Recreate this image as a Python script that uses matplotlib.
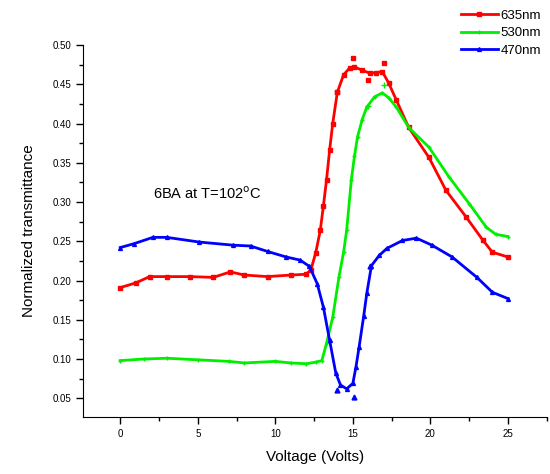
import numpy as np
import matplotlib.pyplot as plt
from matplotlib.ticker import MultipleLocator

plt.rcParams['font.family'] = ['Liberation Sans', 'DejaVu Sans']

# 635 nm (red)
v_red = [0, 1.0, 1.9, 3.0, 4.5, 6.0, 7.1, 8.0, 9.5, 11.0, 12.0, 12.3, 12.6, 12.9, 13.1, 13.3, 13.5,
         13.7, 14.0, 14.4, 14.8, 15.1, 15.6, 16.1, 16.5, 16.9, 17.3, 17.8, 18.6, 19.9, 21.0, 22.3,
         23.4, 24.0, 25.0]
t_red = [0.191, 0.197, 0.205, 0.205, 0.205, 0.204, 0.211, 0.207, 0.205, 0.207, 0.208, 0.214, 0.235,
         0.264, 0.295, 0.328, 0.366, 0.400, 0.440, 0.462, 0.471, 0.472, 0.468, 0.464, 0.465, 0.466,
         0.452, 0.430, 0.395, 0.357, 0.315, 0.281, 0.251, 0.236, 0.230]
v_red_pts = [14.0, 15.0, 16.0, 17.0]
t_red_pts = [0.440, 0.483, 0.455, 0.477]

# 530 nm (green)
v_green = [0, 1.5, 3.0, 5.0, 7.0, 8.0, 10.0, 11.0, 12.0, 12.6, 13.0, 13.3, 13.7, 14.1, 14.4, 14.6,
           14.9, 15.1, 15.3, 15.6, 15.9, 16.4, 16.9, 17.3, 17.8, 18.6, 19.9, 21.2, 22.5, 23.6,
           24.2, 25.0]
t_green = [0.098, 0.100, 0.101, 0.099, 0.097, 0.095, 0.097, 0.095, 0.094, 0.096, 0.098, 0.120, 0.153,
           0.204, 0.236, 0.264, 0.328, 0.358, 0.383, 0.405, 0.421, 0.434, 0.439, 0.433, 0.421, 0.395,
           0.370, 0.332, 0.298, 0.268, 0.259, 0.256]
v_green_pts = [16.0, 17.0]
t_green_pts = [0.422, 0.449]

# 470 nm (blue)
v_blue = [0, 0.9, 2.1, 3.0, 5.1, 7.3, 8.4, 9.5, 10.7, 11.6, 12.2, 12.7, 13.1, 13.5, 13.9, 14.2, 14.6,
          15.0, 15.2, 15.4, 15.7, 15.9, 16.2, 16.7, 17.2, 18.2, 19.1, 20.1, 21.4, 23.0, 24.0, 25.0]
t_blue = [0.242, 0.247, 0.255, 0.255, 0.249, 0.245, 0.244, 0.237, 0.230, 0.226, 0.218, 0.196, 0.166,
          0.124, 0.082, 0.067, 0.062, 0.069, 0.090, 0.115, 0.155, 0.184, 0.219, 0.232, 0.241, 0.251,
          0.254, 0.245, 0.230, 0.204, 0.185, 0.177]
v_blue_pts = [14.0, 15.05, 16.1]
t_blue_pts = [0.060, 0.052, 0.219]

fig = plt.figure(figsize=(5.5, 4.74), dpi=100)
ax = fig.add_axes([0.151, 0.120, 0.843, 0.785])

ax.plot(v_red, t_red, color='#ff0000', lw=2, marker='s', ms=2.2, label='635nm')
ax.plot(v_green, t_green, color='#00ee00', lw=2, marker='+', ms=3, label='530nm')
ax.plot(v_blue, t_blue, color='#0000ff', lw=2, marker='^', ms=2.8, label='470nm')
ax.plot(v_red_pts, t_red_pts, ls='none', color='#ff0000', marker='s', ms=3)
ax.plot(v_green_pts, t_green_pts, ls='none', color='#00ee00', marker='+', ms=4)
ax.plot(v_blue_pts, t_blue_pts, ls='none', color='#0000ff', marker='^', ms=3.5)

ax.set_xlim(-2.4, 27.5)
ax.set_ylim(0.026, 0.50)
ax.xaxis.set_major_locator(MultipleLocator(5))
ax.xaxis.set_minor_locator(MultipleLocator(2.5))
ax.yaxis.set_minor_locator(MultipleLocator(0.025))
ax.set_yticks(np.arange(0.05, 0.501, 0.05))
ax.yaxis.set_major_formatter(plt.FormatStrFormatter('%.2f'))
ax.tick_params(direction='out', labelsize=7, length=5, width=1)
ax.tick_params(which='minor', direction='out', length=3, width=1)
ax.spines['top'].set_visible(False)
ax.spines['right'].set_visible(False)

ax.set_xlabel('Voltage (Volts)', fontsize=11, labelpad=8)
ax.set_ylabel('Normalized transmittance', fontsize=11, labelpad=12)
ax.text(2.1, 0.311, '6BA at T=102$^{\\rm o}$C', fontsize=10.5, va='center')

leg = fig.legend(loc='upper right', bbox_to_anchor=(1.005, 1.005), frameon=False,
                 fontsize=9.5, handlelength=2.8, handletextpad=0.2, labelspacing=0.4)

fig.savefig('out.png', dpi=100)
